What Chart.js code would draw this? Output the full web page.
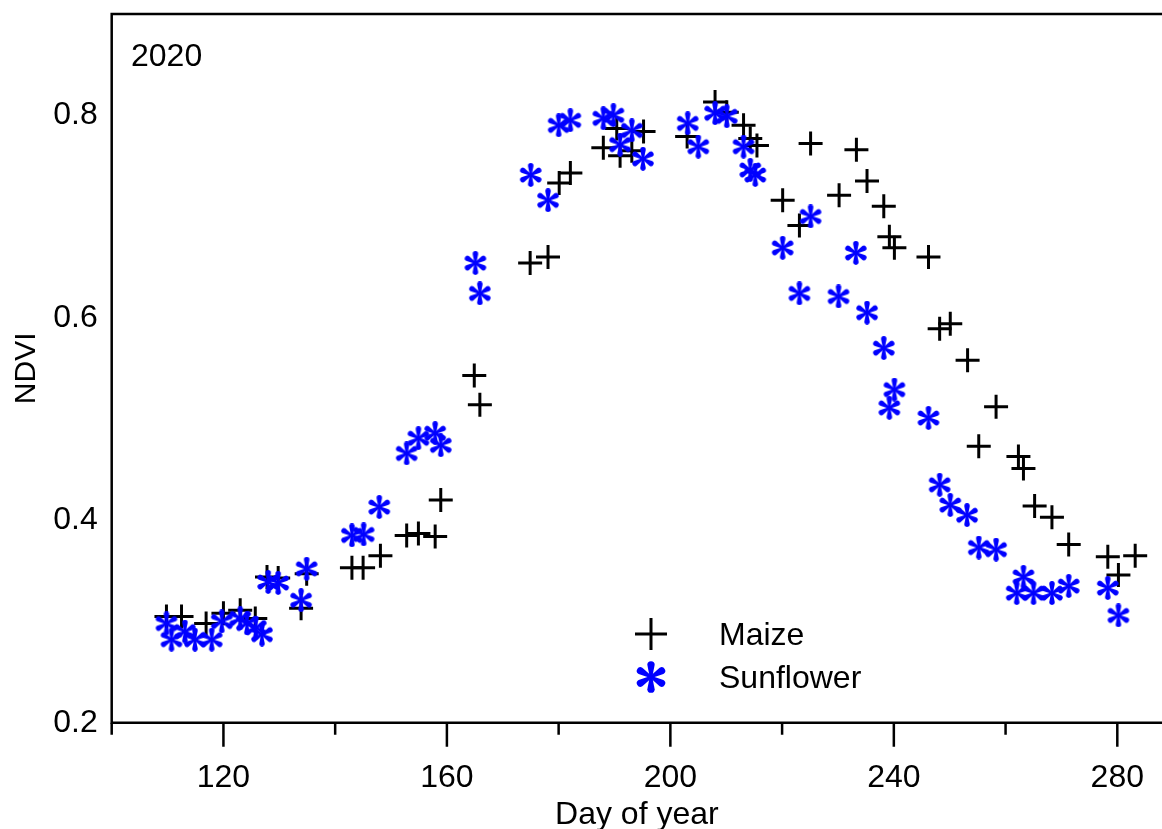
<!DOCTYPE html>
<html>
<head>
<meta charset="utf-8">
<script src="https://cdn.jsdelivr.net/npm/chart.js@4.4.1/dist/chart.umd.min.js"></script>
<style>
  html, body { margin: 0; padding: 0; background: #fff; }
  canvas { display: block; }
</style>
</head>
<body>
<canvas id="ndviChart" width="1162" height="829"></canvas>
<script>
// values (day of year, NDVI)
const maizeDay = [109.8, 112.5, 116.9, 120, 123, 125.7, 127.8, 129.8, 133.9, 134.9,
  143, 145, 148.1, 152.8, 154.9, 157.9, 158.9, 164.9, 165.9, 174.9,
  178.1, 180.1, 182.1, 188, 190.4, 191, 193.1, 195.2, 203, 208,
  210.1, 213.1, 214.3, 215.5, 220.1, 223.1, 225.1, 230.2, 233.3, 235.2,
  238.2, 239.2, 240.1, 246.2, 248.2, 250.1, 253.2, 255.2, 258.3, 262.3,
  263.2, 265.2, 268.3, 271.3, 278.3, 280.2, 283.2];
const maizeNdvi = [0.305, 0.305, 0.298, 0.308, 0.311, 0.303, 0.344, 0.343, 0.313, 0.347,
  0.353, 0.353, 0.365, 0.385, 0.387, 0.384, 0.420, 0.543, 0.514, 0.654,
  0.660, 0.733, 0.743, 0.768, 0.787, 0.760, 0.765, 0.784, 0.779, 0.813,
  0.803, 0.790, 0.777, 0.770, 0.716, 0.691, 0.772, 0.721, 0.766, 0.735,
  0.710, 0.680, 0.669, 0.660, 0.589, 0.594, 0.558, 0.473, 0.512, 0.463,
  0.451, 0.414, 0.403, 0.376, 0.364, 0.346, 0.365];

const sunDay = [109.8, 110.7, 113.1, 114.9, 117.9, 119.7, 123, 124.2, 125.8, 126.9,
  128, 129.8, 133.9, 134.9, 143, 145.1, 147.9, 152.8, 154.9, 157.9,
  158.9, 165.1, 165.9, 175, 178.1, 180, 182.1, 188, 189.8, 191,
  193.1, 195.1, 203.1, 205, 208, 210.1, 213.1, 214.3, 215.2, 220.1,
  223.1, 225.1, 230.1, 233.2, 235.2, 238.2, 239.2, 240.1, 246.2, 248.2,
  250.1, 253.1, 255.2, 258.3, 262, 263.2, 265, 268.3, 271.3, 278.3, 280.2];
const sunNdvi = [0.298, 0.282, 0.290, 0.282, 0.282, 0.300, 0.303, 0.298, 0.294, 0.287,
  0.339, 0.338, 0.321, 0.352, 0.385, 0.386, 0.413, 0.466, 0.481, 0.486,
  0.474, 0.654, 0.624, 0.741, 0.716, 0.790, 0.795, 0.797, 0.800, 0.771,
  0.785, 0.757, 0.792, 0.769, 0.802, 0.799, 0.769, 0.746, 0.741, 0.669,
  0.624, 0.700, 0.621, 0.664, 0.605, 0.570, 0.511, 0.529, 0.501, 0.435,
  0.415, 0.405, 0.373, 0.371, 0.328, 0.344, 0.328, 0.328, 0.335, 0.333, 0.306];

const xTickVals = [100, 120, 140, 160, 180, 200, 220, 240, 260, 280];
const xLabelVals = [120, 160, 200, 240, 280];
const yTickVals = [0.2, 0.4, 0.6, 0.8];

const FONT = "'Liberation Sans', Arial, sans-serif";
const BLUE = '#0000ff';

// six-armed asterisk with rounded tips, like the sunflower marker
function makeStar(size) {
  const c = document.createElement('canvas');
  c.width = size; c.height = size;
  const g = c.getContext('2d');
  const cx = size / 2, cy = size / 2;
  const r = size / 2 - size * 0.12;
  const tip = size * 0.115;
  g.fillStyle = BLUE;
  for (let k = 0; k < 6; k++) {
    const a = Math.PI / 2 + k * Math.PI / 3;
    const dx = Math.cos(a), dy = -Math.sin(a);
    const px = -dy, py = dx;
    g.beginPath();
    g.moveTo(cx + px * size * 0.04, cy + py * size * 0.04);
    g.lineTo(cx + dx * r + px * tip, cy + dy * r + py * tip);
    g.arc(cx + dx * r, cy + dy * r, tip, Math.atan2(py, px), Math.atan2(py, px) + Math.PI, true);
    g.lineTo(cx - px * size * 0.04, cy - py * size * 0.04);
    g.closePath();
    g.fill();
  }
  return c;
}

const starSmall = makeStar(24);
const starBig = makeStar(32);

const maizePts = maizeDay.map((d, i) => ({x: d, y: maizeNdvi[i]}));
const sunPts = sunDay.map((d, i) => ({x: d, y: sunNdvi[i]}));

// scales must not reserve room for half a label at their ends
function noEndPadding(s) {
  s.paddingTop = 0; s.paddingBottom = 0;
  s.paddingLeft = 0; s.paddingRight = 0;
}

const decor = {
  id: 'decor',
  afterDraw(chart) {
    const ctx = chart.ctx;
    const a = chart.chartArea;
    const xs = chart.scales.x;
    ctx.save();
    ctx.strokeStyle = '#000';
    ctx.lineWidth = 2.5;
    ctx.beginPath();
    ctx.moveTo(a.left, a.bottom);
    ctx.lineTo(a.left, a.top);
    ctx.lineTo(chart.width + 5, a.top);
    ctx.moveTo(a.left - 1.2, a.bottom);
    ctx.lineTo(chart.width + 5, a.bottom);
    ctx.stroke();
    // x ticks: long at labelled values, short in between
    ctx.beginPath();
    xTickVals.forEach(v => {
      const px = xs.getPixelForValue(v);
      const len = xLabelVals.includes(v) ? 24 : 12;
      ctx.moveTo(px, a.bottom);
      ctx.lineTo(px, a.bottom + len);
    });
    ctx.stroke();

    ctx.fillStyle = '#000';
    ctx.font = '32px ' + FONT;
    ctx.textBaseline = 'middle';
    ctx.textAlign = 'left';
    ctx.fillText('2020', 131, 57);

    // legend
    ctx.lineWidth = 3;
    ctx.beginPath();
    ctx.moveTo(635, 634); ctx.lineTo(667, 634);
    ctx.moveTo(651, 618); ctx.lineTo(651, 650);
    ctx.stroke();
    ctx.drawImage(starBig, 651 - 16, 677 - 16);
    ctx.fillText(chart.data.datasets[0].label, 719, 636);
    ctx.fillText(chart.data.datasets[1].label, 719, 679);
    ctx.restore();
  }
};

new Chart(document.getElementById('ndviChart'), {
  type: 'scatter',
  data: {
    datasets: [
      {
        label: 'Maize',
        data: maizePts,
        pointStyle: 'cross',
        pointRadius: 12,
        pointHoverRadius: 12,
        borderWidth: 3,
        borderColor: '#000',
        backgroundColor: '#000',
        order: 2
      },
      {
        label: 'Sunflower',
        data: sunPts,
        pointStyle: starSmall,
        pointRadius: 12,
        order: 1
      }
    ]
  },
  options: {
    responsive: false,
    animation: false,
    events: [],
    layout: { padding: { top: 14, left: 0, right: 0, bottom: 0 }, autoPadding: false },
    plugins: { legend: { display: false }, tooltip: { enabled: false } },
    scales: {
      x: {
        type: 'linear',
        min: 100,
        max: 288,
        afterBuildTicks: s => { s.ticks = xTickVals.map(v => ({value: v})); },
        afterFit: s => { s.height = 829 - 722.7; noEndPadding(s); },
        grid: { display: false, drawTicks: false },
        border: { display: false },
        ticks: {
          autoSkip: false,
          maxRotation: 0,
          padding: 36,
          color: '#000',
          font: { size: 32, family: FONT },
          callback: v => xLabelVals.includes(v) ? String(v) : ''
        },
        title: {
          display: true,
          text: 'Day of year',
          color: '#000',
          font: { size: 32, family: FONT, lineHeight: 0.8 },
          padding: { top: 0, bottom: 1 }
        }
      },
      y: {
        min: 0.2,
        max: 0.9,
        afterBuildTicks: s => { s.ticks = yTickVals.map(v => ({value: v})); },
        afterFit: s => { s.width = 111.7; noEndPadding(s); },
        grid: { display: false, drawTicks: false },
        border: { display: false },
        ticks: {
          padding: 14,
          color: '#000',
          font: { size: 32, family: FONT },
          callback: v => v.toFixed(1)
        },
        title: {
          display: true,
          text: 'NDVI',
          color: '#000',
          font: { size: 30, family: FONT },
          padding: { top: 9, bottom: 0 }
        }
      }
    }
  },
  plugins: [decor]
});
</script>
</body>
</html>
